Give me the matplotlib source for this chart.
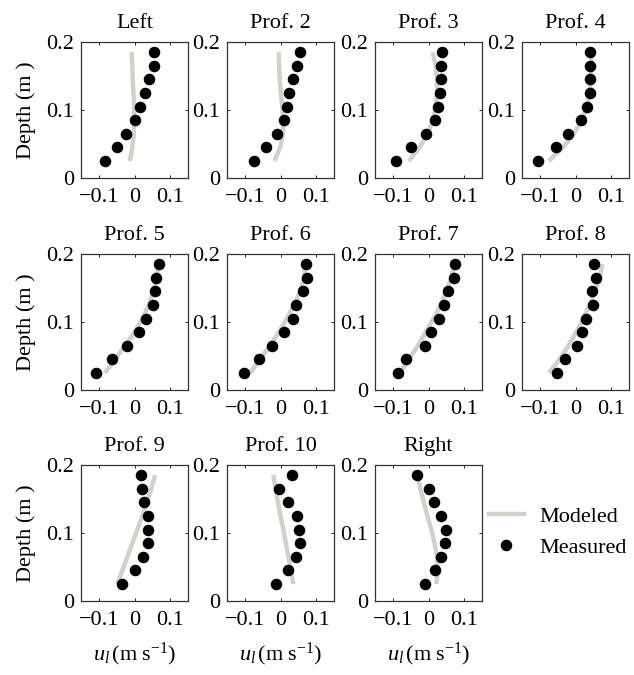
import matplotlib
matplotlib.use("Agg")
import matplotlib.pyplot as plt
from matplotlib.lines import Line2D

plt.rcParams['font.family'] = ['Liberation Serif', 'DejaVu Serif']
plt.rcParams['mathtext.fontset'] = 'custom'
plt.rcParams['mathtext.rm'] = 'Liberation Serif'
plt.rcParams['mathtext.it'] = 'Liberation Serif:italic'

# Profile names
titles = ["Left", "Prof. 2", "Prof. 3", "Prof. 4", "Prof. 5", "Prof. 6",
          "Prof. 7", "Prof. 8", "Prof. 9", "Prof. 10", "Right"]

# Depths of measurement / model points (m)
depth = [0.185, 0.165, 0.145, 0.125, 0.105, 0.085, 0.065, 0.045, 0.025]

# Measured velocity u_l (m/s) for each profile, top to bottom
measured = [
    [0.054, 0.055, 0.041, 0.030, 0.015, 0.002, -0.023, -0.049, -0.082],
    [0.054, 0.046, 0.035, 0.025, 0.019, 0.010, -0.010, -0.040, -0.074],
    [0.039, 0.035, 0.035, 0.033, 0.026, 0.019, -0.007, -0.050, -0.090],
    [0.041, 0.041, 0.042, 0.042, 0.033, 0.016, -0.020, -0.054, -0.104],
    [0.069, 0.060, 0.058, 0.052, 0.033, 0.012, -0.021, -0.064, -0.107],
    [0.071, 0.074, 0.063, 0.044, 0.035, 0.011, -0.025, -0.059, -0.101],
    [0.074, 0.072, 0.055, 0.043, 0.029, 0.007, -0.010, -0.062, -0.086],
    [0.052, 0.058, 0.045, 0.048, 0.029, 0.019, 0.004, -0.030, -0.053],
    [0.018, 0.021, 0.027, 0.037, 0.039, 0.037, 0.024, 0.002, -0.034],
    [0.033, -0.003, 0.020, 0.046, 0.053, 0.055, 0.044, 0.022, -0.014],
    [-0.032, 0.000, 0.016, 0.036, 0.050, 0.046, 0.036, 0.018, -0.010],
]

# Modeled velocity u_l (m/s) at the same depths
modeled = [
    [-0.008, -0.006, -0.005, -0.003, -0.001, 0.000, -0.002, -0.006, -0.013],
    [-0.005, -0.004, -0.002, 0.001, 0.005, 0.008, 0.007, -0.001, -0.017],
    [0.012, 0.020, 0.024, 0.024, 0.020, 0.012, -0.002, -0.025, -0.055],
    [0.045, 0.044, 0.043, 0.040, 0.032, 0.018, -0.005, -0.035, -0.075],
    [0.067, 0.062, 0.053, 0.040, 0.022, 0.000, -0.027, -0.055, -0.083],
    [0.070, 0.066, 0.055, 0.038, 0.018, -0.005, -0.030, -0.058, -0.085],
    [0.073, 0.064, 0.050, 0.034, 0.014, -0.008, -0.030, -0.055, -0.080],
    [0.075, 0.068, 0.055, 0.040, 0.022, 0.002, -0.020, -0.045, -0.075],
    [0.058, 0.047, 0.035, 0.022, 0.008, -0.006, -0.020, -0.034, -0.048],
    [-0.020, -0.014, -0.007, 0.000, 0.008, 0.015, 0.022, 0.029, 0.036],
    [-0.030, -0.023, -0.013, -0.003, 0.008, 0.017, 0.024, 0.026, 0.022],
]

xticks = [-0.1, 0, 0.1]
xticklabels = ["\u22120.1", "0", "0.1"]
yticks = [0, 0.1, 0.2]
yticklabels = ["0", "0.1", "0.2"]

W, H = 634, 675
fig = plt.figure(figsize=(W / 100, H / 100), dpi=100)

col_left = [81, 227, 375, 522]
row_top = [42, 254, 465]
aw, ah = 107, 136

model_color = "#d3cfc9"
fs = 16
ms = 7.3
lw = 3.2

for i, name in enumerate(titles):
    r, c = divmod(i, 4)
    ax = fig.add_axes([col_left[c] / W, 1 - (row_top[r] + ah) / H, aw / W, ah / H])
    ax.plot(modeled[i], depth, color=model_color, lw=lw, solid_capstyle="butt", zorder=1)
    ax.plot(measured[i], depth, "o", color="black", ms=ms, zorder=2)
    ax.set_xlim(-0.15, 0.15)
    ax.set_ylim(0, 0.2)
    ax.set_xticks(xticks)
    ax.set_xticklabels(xticklabels)
    ax.set_yticks(yticks)
    ax.set_yticklabels(yticklabels)
    ax.tick_params(direction="in", length=2.5, width=0.6, labelsize=fs,
                   top=True, right=True)
    ax.tick_params(axis="x", pad=7)
    ax.tick_params(axis="y", pad=5)
    for s in ax.spines.values():
        s.set_linewidth(0.9)
        s.set_color("#333333")
    ax.set_title(name, fontsize=fs, pad=10)
    if c == 0:
        ax.set_ylabel("Depth (m )", fontsize=fs, labelpad=7)
    if r == 2:
        ax.set_xlabel(r"$u_l\,$(m s$^{-1}$)", fontsize=fs, labelpad=8)

handles = [Line2D([], [], color=model_color, lw=lw),
           Line2D([], [], ls="none", marker="o", color="black", ms=ms)]
fig.legend(handles, ["Modeled", "Measured"], loc="upper left",
           bbox_to_anchor=(482 / W, 1 - 500 / H), frameon=False, fontsize=fs,
           handlelength=1.6, handletextpad=0.7, labelspacing=0.45,
           borderaxespad=0, borderpad=0.3)

fig.savefig("out.png", dpi=100)
